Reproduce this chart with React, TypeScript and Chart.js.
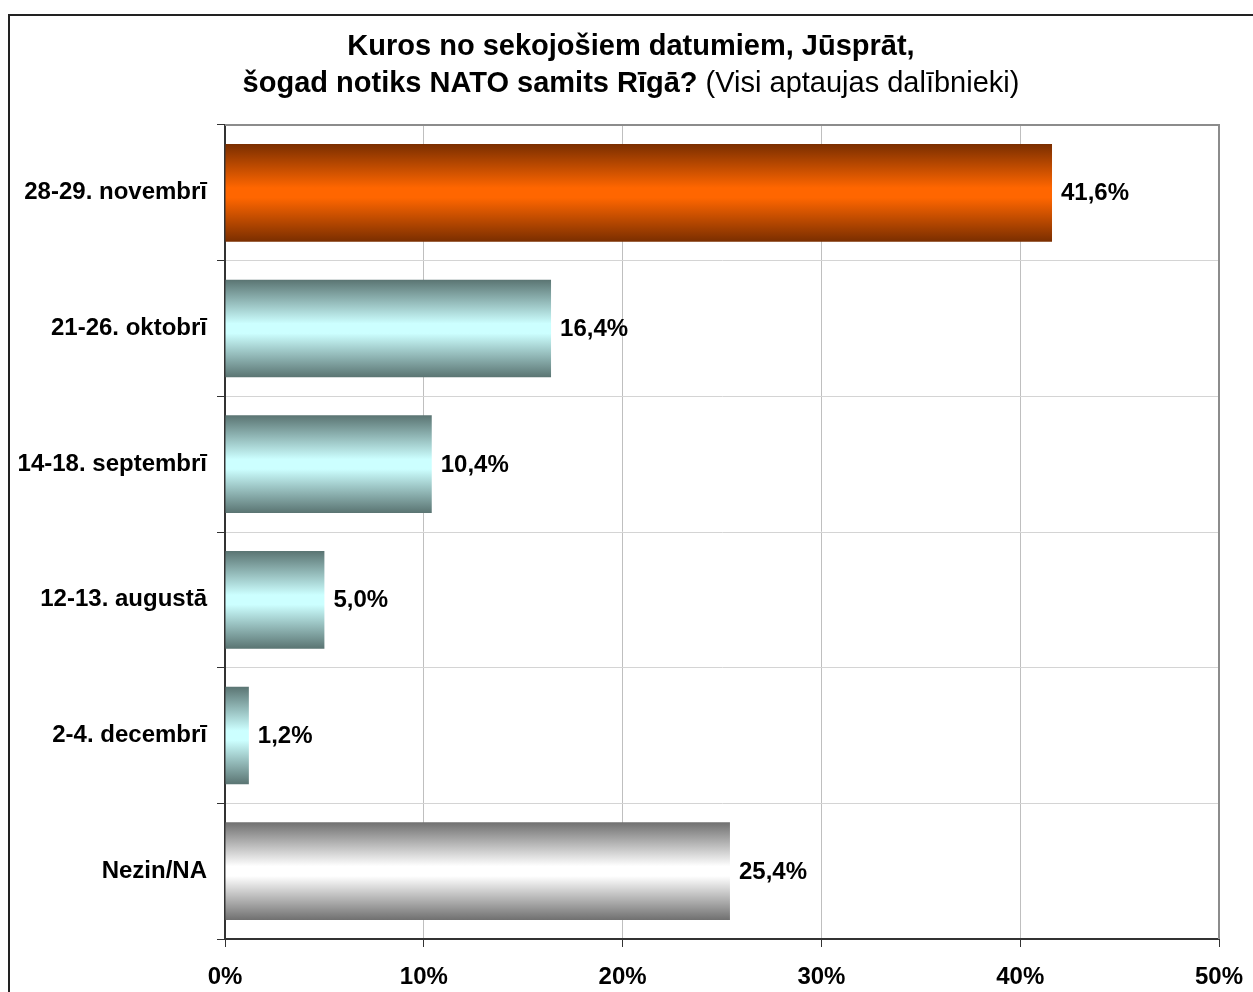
import React, { useEffect, useRef } from "react";
import { Chart, registerables } from "chart.js";

Chart.register(...registerables);

const categories = [
  "28-29. novembrī",
  "21-26. oktobrī",
  "14-18. septembrī",
  "12-13. augustā",
  "2-4. decembrī",
  "Nezin/NA",
];
const values = [41.6, 16.4, 10.4, 5.0, 1.2, 25.4];
const barKinds = ["orange", "cyan", "cyan", "cyan", "cyan", "gray"];
const xTicks = [0, 10, 20, 30, 40, 50];
const titleLine1 = "Kuros no sekojošiem datumiem, Jūsprāt,";
const titleLine2Bold = "šogad notiks NATO samits Rīgā? ";
const titleLine2Normal = "(Visi aptaujas dalībnieki)";

const palette: Record<string, [string, string]> = {
  orange: ["#7a2e00", "#ff6600"],
  cyan: ["#5a7472", "#ccffff"],
  gray: ["#707070", "#ffffff"],
};

const FONT = "'Liberation Sans', Arial, sans-serif";
const BAR_PCT = 0.72;

const fmt = (v: number) => v.toFixed(1).replace(".", ",") + "%";

export default function App() {
  const ref = useRef<HTMLCanvasElement | null>(null);

  useEffect(() => {
    const canvas = ref.current;
    if (!canvas) return;

    const framePlugin = {
      id: "frame",
      beforeDraw(chart: any) {
        const c = chart.ctx;
        c.save();
        c.fillStyle = "#ffffff";
        c.fillRect(0, 0, chart.width, chart.height);
        c.strokeStyle = "#222222";
        c.lineWidth = 2;
        c.strokeRect(9, 15, chart.width + 40, chart.height + 40);
        c.restore();
      },
      afterDraw(chart: any) {
        const c = chart.ctx;
        const a = chart.chartArea;
        c.save();
        c.strokeStyle = "#8c8c8c";
        c.lineWidth = 2;
        c.beginPath();
        c.moveTo(a.left, a.top);
        c.lineTo(a.right, a.top);
        c.lineTo(a.right, a.bottom);
        c.stroke();
        const cx = 631;
        c.fillStyle = "#000000";
        c.textBaseline = "alphabetic";
        c.font = `bold 29px ${FONT}`;
        c.textAlign = "center";
        c.fillText(titleLine1, cx, 55);
        const wb = c.measureText(titleLine2Bold).width;
        c.font = `29px ${FONT}`;
        const wn = c.measureText(titleLine2Normal).width;
        const x0 = cx - (wb + wn) / 2;
        c.textAlign = "left";
        c.font = `bold 29px ${FONT}`;
        c.fillText(titleLine2Bold, x0, 92);
        c.font = `29px ${FONT}`;
        c.fillText(titleLine2Normal, x0 + wb, 92);
        c.restore();
      },
      afterDatasetsDraw(chart: any) {
        const c = chart.ctx;
        const meta = chart.getDatasetMeta(0);
        c.save();
        c.font = `bold 24px ${FONT}`;
        c.fillStyle = "#000000";
        c.textAlign = "left";
        c.textBaseline = "middle";
        meta.data.forEach((el: any, i: number) => {
          c.fillText(fmt(values[i]), el.x + 9, el.y + 1);
        });
        c.restore();
      },
    };

    const chart = new Chart(canvas, {
      type: "bar",
      data: {
        labels: categories,
        datasets: [
          {
            data: values,
            borderWidth: 0,
            categoryPercentage: 1,
            barPercentage: BAR_PCT,
            backgroundColor: (ctx: any) => {
              const chart = ctx.chart;
              const kind = barKinds[ctx.dataIndex] || "cyan";
              const [dark, light] = palette[kind];
              const ys = chart.scales && chart.scales.y;
              if (!ys || !chart.chartArea) return light;
              const yc = ys.getPixelForValue(ctx.dataIndex);
              const half = ((chart.chartArea.bottom - chart.chartArea.top) / categories.length) * BAR_PCT / 2;
              const g = chart.ctx.createLinearGradient(0, yc - half, 0, yc + half);
              g.addColorStop(0, dark);
              g.addColorStop(0.45, light);
              g.addColorStop(0.55, light);
              g.addColorStop(1, dark);
              return g;
            },
          },
        ],
      },
      plugins: [framePlugin],
      options: {
        indexAxis: "y",
        animation: false,
        responsive: false,
        maintainAspectRatio: false,
        layout: { padding: { top: 125, right: 34, left: 0, bottom: 0 } },
        plugins: {
          legend: { display: false },
          title: { display: false },
          tooltip: { enabled: false },
        },
        scales: {
          x: {
            min: 0,
            max: 50,
            afterBuildTicks: (scale: any) => {
              scale.ticks = xTicks.map((v) => ({ value: v }));
            },
            afterFit: (scale: any) => {
              scale.height = 53;
              scale.paddingRight = 0;
              scale.paddingLeft = 0;
            },
            grid: {
              color: "#bfbfbf",
              lineWidth: 1,
              tickColor: "#333333",
              tickLength: 8,
              drawTicks: true,
            },
            border: { color: "#333333", width: 2 },
            ticks: {
              color: "#000000",
              font: { family: FONT, size: 24, weight: "bold" },
              padding: 16,
              callback: (v: any) => v + "%",
            },
          },
          y: {
            afterFit: (scale: any) => {
              scale.width = 225;
              scale.paddingTop = 0;
              scale.paddingBottom = 0;
            },
            grid: {
              offset: true,
              color: "#d4d4d4",
              lineWidth: 1,
              tickColor: "#333333",
              tickLength: 8,
            },
            border: { color: "#333333", width: 2 },
            ticks: {
              color: "#000000",
              font: { family: FONT, size: 24, weight: "bold" },
              padding: 10,
            },
          },
        },
      } as any,
    });

    return () => chart.destroy();
  }, []);

  return (
    <div style={{ position: "fixed", left: 0, top: 0, width: 1253, height: 992, background: "#fff" }}>
      <canvas ref={ref} width={1253} height={992} style={{ display: "block", width: 1253, height: 992 }} />
    </div>
  );
}
